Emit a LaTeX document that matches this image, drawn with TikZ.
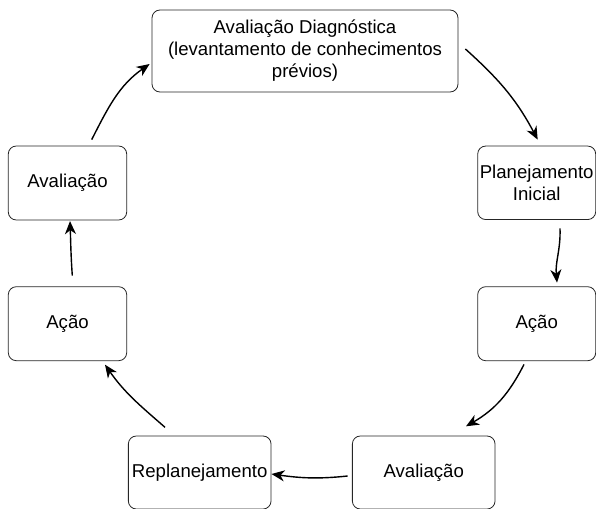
\documentclass[tikz,border=0pt]{standalone}
\usepackage{fontspec}
\setmainfont{Liberation Sans}
\usetikzlibrary{arrows.meta}
\tikzstyle{etapa}=[rectangle,rounded corners=8pt,draw=black!85,line width=0.8pt,
  align=center,inner sep=0pt,font=\fontsize{18.6}{22}\selectfont]
\tikzstyle{seta}=[-{Stealth[length=13pt,width=11pt,inset=4pt]},line width=1.4pt]

\begin{document}
\begin{tikzpicture}[x=1pt,y=1pt]
  \useasboundingbox (0,0) rectangle (596,-508);

  % caixas
  \node[etapa,minimum width=306pt,minimum height=82pt] (diag) at (305,-51)
    {Avaliação Diagnóstica\\(levantamento de conhecimentos\\prévios)};
  \node[etapa,minimum width=118pt,minimum height=73.5pt] (plan) at (536.7,-182.8)
    {Planejamento\\Inicial};
  \node[etapa,minimum width=118pt,minimum height=74pt] (acao1) at (536.7,-323.7) {Ação};
  \node[etapa,minimum width=142.7pt,minimum height=73pt] (aval1) at (423.7,-472.5) {Avaliação};
  \node[etapa,minimum width=142.7pt,minimum height=73pt] (replan) at (199.7,-472.5) {Replanejamento};
  \node[etapa,minimum width=118.4pt,minimum height=74pt] (acao2) at (67.5,-323.7) {Ação};
  \node[etapa,minimum width=118.4pt,minimum height=74pt] (aval2) at (67.5,-183) {Avaliação};

  % ciclo
  \path [seta]
    ([xshift=7pt,yshift=2pt]diag.east) edge [out=-42,in=118]
      ([xshift=1pt,yshift=6pt]plan.north)
    ([xshift=23.3pt,yshift=-8.5pt]plan.south) edge [out=-88,in=95]
      ([xshift=20.3pt,yshift=3.7pt]acao1.north)
    ([xshift=-12.7pt,yshift=-3.3pt]acao1.south) edge [out=-117,in=30]
      ([xshift=42.3pt,yshift=9.3pt]aval1.north)
    ([xshift=-4.3pt,yshift=-3.5pt]aval1.west) edge [out=186,in=-8]
      ([yshift=-1.5pt]replan.east)
    ([xshift=-34.7pt,yshift=8.3pt]replan.north) edge [out=139,in=-55]
      ([xshift=37.5pt,yshift=-3.6pt]acao2.south)
    ([xshift=4.8pt,yshift=10.7pt]acao2.north) edge [out=94,in=-88]
      ([xshift=2.5pt,yshift=-0.7pt]aval2.south)
    ([xshift=24.2pt,yshift=6pt]aval2.north) edge [out=63,in=-145]
      ([xshift=-2pt,yshift=-13pt]diag.west);
\end{tikzpicture}
\end{document}
